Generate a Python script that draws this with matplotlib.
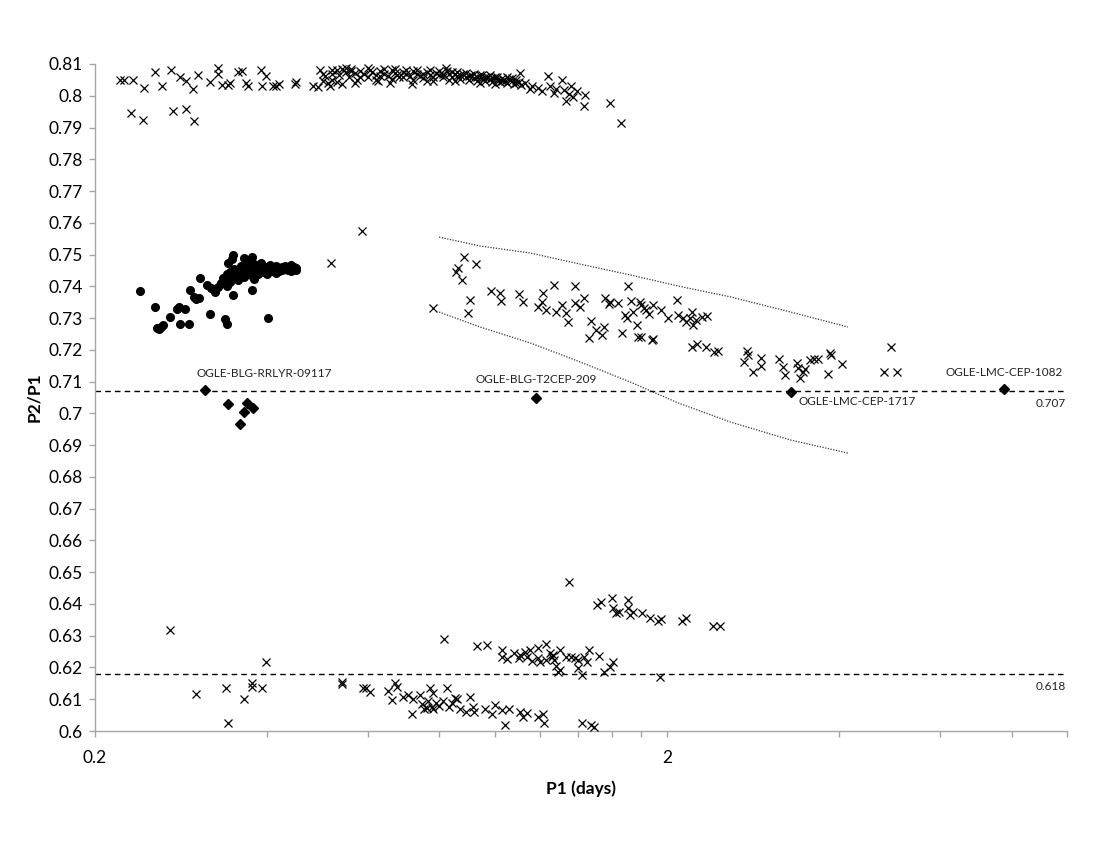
# -*- coding: utf-8 -*-
# P2/P1 period ratio vs P1 (log axis), crosses / circles / diamonds
import matplotlib
matplotlib.use('Agg')
import matplotlib.pyplot as plt
from matplotlib.ticker import FixedLocator, FuncFormatter, NullFormatter

# ---- data (P1 in days, P2/P1) ----
# upper sequence ~0.80-0.81, sparse left part
top_sparse = [(0.221, 0.8050), (0.225, 0.8050), (0.233, 0.8050), (0.231, 0.7946), (0.243, 0.7924),
              (0.244, 0.8025), (0.255, 0.8075), (0.262, 0.8031), (0.272, 0.8081), (0.282, 0.8059),
              (0.288, 0.8047), (0.274, 0.7952), (0.289, 0.7958), (0.297, 0.8021), (0.298, 0.7921),
              (0.303, 0.8066), (0.318, 0.8043), (0.328, 0.8088), (0.328, 0.8069), (0.333, 0.8034),
              (0.342, 0.8034), (0.344, 0.8040), (0.356, 0.8075), (0.361, 0.8078), (0.367, 0.8040),
              (0.370, 0.8031), (0.390, 0.8081), (0.391, 0.8031), (0.398, 0.8062), (0.409, 0.8031),
              (0.414, 0.8031), (0.419, 0.8037), (0.447, 0.8037), (0.449, 0.8043)]
# upper sequence, dense part
top_dense = [(0.48, 0.8030), (0.49, 0.8028), (0.495, 0.8081), (0.50, 0.8070), (0.505, 0.8062),
             (0.51, 0.8040), (0.515, 0.8032), (0.52, 0.8050), (0.52, 0.8082), (0.53, 0.8080),
             (0.535, 0.8065), (0.54, 0.8038), (0.54, 0.8085), (0.55, 0.8075), (0.555, 0.8060),
             (0.56, 0.8085), (0.56, 0.8078), (0.57, 0.8072), (0.575, 0.8050), (0.58, 0.8078),
             (0.59, 0.8068), (0.60, 0.8060), (0.605, 0.8082), (0.61, 0.8074), (0.62, 0.8066),
             (0.625, 0.8045), (0.63, 0.8078), (0.64, 0.8070), (0.65, 0.8062), (0.655, 0.8040),
             (0.66, 0.8080), (0.67, 0.8072), (0.675, 0.8064), (0.68, 0.8058), (0.69, 0.8076),
             (0.70, 0.8068), (0.71, 0.8062), (0.715, 0.8036), (0.72, 0.8078), (0.73, 0.8070),
             (0.74, 0.8062), (0.75, 0.8056), (0.76, 0.8074), (0.77, 0.8066), (0.78, 0.8058),
             (0.79, 0.8072), (0.80, 0.8064), (0.81, 0.8058), (0.82, 0.8088), (0.825, 0.8078),
             (0.83, 0.8068), (0.84, 0.8060), (0.85, 0.8070), (0.86, 0.8062), (0.87, 0.8054),
             (0.88, 0.8068), (0.89, 0.8058), (0.90, 0.8050), (0.91, 0.8066), (0.92, 0.8056),
             (0.93, 0.8048), (0.94, 0.8064), (0.95, 0.8055), (0.96, 0.8046), (0.97, 0.8060),
             (0.98, 0.8052), (0.99, 0.8044), (1.00, 0.8058), (1.01, 0.8050), (1.02, 0.8042),
             (1.03, 0.8056), (1.04, 0.8047), (1.05, 0.8040), (1.06, 0.8053), (1.07, 0.8045),
             (1.08, 0.8037), (1.09, 0.8050), (1.10, 0.8042), (1.11, 0.8035)]
top_dense2 = [(0.50, 0.8045), (0.52, 0.8068), (0.53, 0.8042), (0.55, 0.8088), (0.57, 0.8040),
              (0.58, 0.8060), (0.60, 0.8086), (0.62, 0.8050), (0.63, 0.8062), (0.64, 0.8085),
              (0.66, 0.8054), (0.67, 0.8084), (0.69, 0.8060), (0.70, 0.8082), (0.72, 0.8050),
              (0.73, 0.8082), (0.75, 0.8070), (0.77, 0.8080), (0.78, 0.8048), (0.80, 0.8078),
              (0.81, 0.8070), (0.83, 0.8050), (0.84, 0.8076), (0.86, 0.8074), (0.87, 0.8066),
              (0.89, 0.8072), (0.90, 0.8062), (0.92, 0.8070), (0.93, 0.8060), (0.95, 0.8066),
              (0.96, 0.8058), (0.98, 0.8064), (0.99, 0.8056), (1.01, 0.8060), (1.03, 0.8046),
              (1.05, 0.8058), (1.07, 0.8055), (1.09, 0.8040), (0.76, 0.8045), (0.85, 0.8045),
              (0.94, 0.8040), (1.00, 0.8036)]
# upper sequence, scattered right end
top_tail = [(1.107, 0.8072), (1.13, 0.8040), (1.15, 0.8020), (1.16, 0.8032), (1.19, 0.8025),
            (1.21, 0.8015), (1.24, 0.8062), (1.25, 0.8030), (1.27, 0.8010), (1.28, 0.8022),
            (1.31, 0.8050), (1.32, 0.8018), (1.33, 0.7982), (1.35, 0.8005), (1.36, 0.8030),
            (1.37, 0.7995), (1.39, 0.8015), (1.44, 0.8003), (1.43, 0.7968), (1.59, 0.7977),
            (1.66, 0.7914)]
lone_cross = [(0.586, 0.7574), (0.517, 0.7474)]

# cepheid-like band, 0.71-0.75
cep_band = [(0.780, 0.7332), (0.883, 0.7492), (0.862, 0.7458), (0.856, 0.7445), (0.875, 0.7420),
            (0.927, 0.7470), (0.905, 0.7357), (0.899, 0.7316), (0.985, 0.7385), (1.021, 0.7379),
            (1.025, 0.7354), (1.103, 0.7376), (1.12, 0.7351), (1.19, 0.7335), (1.215, 0.7379),
            (1.21, 0.7351), (1.23, 0.7326), (1.27, 0.7404), (1.28, 0.7319), (1.33, 0.7316),
            (1.31, 0.7341), (1.34, 0.7288), (1.38, 0.7401), (1.38, 0.7348), (1.41, 0.7335),
            (1.43, 0.7363), (1.47, 0.7291), (1.46, 0.7237), (1.50, 0.7263), (1.54, 0.7247),
            (1.55, 0.7272), (1.56, 0.7363), (1.59, 0.7351), (1.58, 0.7344), (1.64, 0.7348),
            (1.67, 0.7253), (1.71, 0.7401), (1.70, 0.7300), (1.73, 0.7354), (1.69, 0.7310),
            (1.74, 0.7319), (1.77, 0.7278), (1.78, 0.7241), (1.80, 0.7241), (1.79, 0.7351),
            (1.80, 0.7341), (1.82, 0.7332), (1.84, 0.7326), (1.88, 0.7231), (1.89, 0.7235),
            (1.86, 0.7313), (1.89, 0.7341), (1.95, 0.7326), (2.01, 0.7300), (2.08, 0.7357),
            (2.09, 0.7310), (2.13, 0.7300), (2.16, 0.7288), (2.19, 0.7300), (2.21, 0.7319),
            (2.22, 0.7278), (2.25, 0.7294), (2.30, 0.7304), (2.35, 0.7307), (2.21, 0.7209),
            (2.26, 0.7219), (2.34, 0.7209), (2.42, 0.7193), (2.45, 0.7196), (2.76, 0.7196),
            (2.77, 0.7184), (2.72, 0.7162), (2.83, 0.7130), (2.92, 0.7175), (2.92, 0.7150),
            (3.14, 0.7171), (3.19, 0.7146), (3.22, 0.7121), (3.37, 0.7159), (3.39, 0.7143),
            (3.41, 0.7111), (3.45, 0.7130), (3.49, 0.7140), (3.56, 0.7168), (3.61, 0.7171),
            (3.67, 0.7171), (3.86, 0.7190), (3.87, 0.7184), (3.82, 0.7124), (4.05, 0.7156),
            (4.93, 0.7209), (4.79, 0.7130), (5.04, 0.7130)]

# lower sequence 0.60-0.65
low_band = [(0.271, 0.6318), (0.300, 0.6117), (0.339, 0.6135), (0.341, 0.6025), (0.364, 0.6100),
            (0.376, 0.6151), (0.376, 0.6138), (0.391, 0.6135), (0.398, 0.6217), (0.541, 0.6154),
            (0.541, 0.6148), (0.588, 0.6135), (0.596, 0.6135), (0.605, 0.6123), (0.650, 0.6126),
            (0.660, 0.6098), (0.670, 0.6151), (0.675, 0.6140), (0.690, 0.6107), (0.705, 0.6113),
            (0.715, 0.6054), (0.720, 0.6100), (0.740, 0.6113), (0.745, 0.6085), (0.752, 0.6070),
            (0.760, 0.6072), (0.765, 0.6095), (0.770, 0.6135), (0.775, 0.6076), (0.780, 0.6120),
            (0.780, 0.6068), (0.790, 0.6088), (0.800, 0.6080), (0.810, 0.6095), (0.815, 0.6290),
            (0.825, 0.6135), (0.830, 0.6076), (0.840, 0.6088), (0.850, 0.6104), (0.860, 0.6100),
            (0.870, 0.6070), (0.890, 0.6060), (0.905, 0.6107), (0.915, 0.6076), (0.920, 0.6060),
            (0.960, 0.6069), (0.990, 0.6054), (1.00, 0.6082), (1.03, 0.6066), (1.04, 0.6019),
            (1.06, 0.6069), (1.107, 0.6060), (1.12, 0.6044), (1.14, 0.6057), (1.19, 0.6044),
            (1.22, 0.6025), (1.215, 0.6054), (1.42, 0.6025), (1.47, 0.6019), (1.49, 0.6013)]
low_mid = [(0.93, 0.6268), (0.97, 0.6271), (1.03, 0.6255), (1.03, 0.6233), (1.05, 0.6226),
           (1.08, 0.6246), (1.10, 0.6230), (1.107, 0.6240), (1.13, 0.6249), (1.14, 0.6233),
           (1.15, 0.6255), (1.16, 0.6220), (1.19, 0.6230), (1.19, 0.6261), (1.20, 0.6217),
           (1.23, 0.6274), (1.23, 0.6224), (1.25, 0.6246), (1.26, 0.6233), (1.265, 0.6240),
           (1.27, 0.6224), (1.28, 0.6205), (1.29, 0.6186), (1.30, 0.6192), (1.30, 0.6255),
           (1.33, 0.6233), (1.36, 0.6233), (1.38, 0.6230), (1.40, 0.6224), (1.40, 0.6198),
           (1.42, 0.6176), (1.43, 0.6233), (1.45, 0.6217), (1.46, 0.6255), (1.52, 0.6236),
           (1.55, 0.6186), (1.59, 0.6202), (1.61, 0.6217), (1.35, 0.6469)]
low_top = [(1.51, 0.6397), (1.53, 0.6406), (1.60, 0.6419), (1.61, 0.6387), (1.63, 0.6372),
           (1.65, 0.6375), (1.71, 0.6412), (1.71, 0.6387), (1.72, 0.6365), (1.74, 0.6375),
           (1.81, 0.6372), (1.87, 0.6356), (1.93, 0.6346), (1.95, 0.6353), (1.94, 0.6170),
           (2.12, 0.6346), (2.16, 0.6356), (2.41, 0.6330), (2.47, 0.6330)]

# RR Lyrae (filled circles)
rrl = [(0.240, 0.7385), (0.255, 0.7335), (0.257, 0.7269), (0.259, 0.7265), (0.261, 0.7272),
       (0.263, 0.7278), (0.270, 0.7304), (0.278, 0.7329), (0.280, 0.7335), (0.287, 0.7329),
       (0.282, 0.7281), (0.292, 0.7281), (0.293, 0.7389), (0.298, 0.7367), (0.304, 0.7363),
       (0.300, 0.7360), (0.305, 0.7426), (0.314, 0.7405), (0.318, 0.7313), (0.319, 0.7395),
       (0.324, 0.7382), (0.328, 0.7398), (0.332, 0.7410), (0.340, 0.7281), (0.338, 0.7297),
       (0.341, 0.7474), (0.349, 0.7373), (0.349, 0.7500), (0.347, 0.7485), (0.364, 0.7490),
       (0.376, 0.7492), (0.376, 0.7390), (0.380, 0.7422), (0.402, 0.7300),
       (0.335, 0.7410), (0.335, 0.7425), (0.340, 0.7420), (0.340, 0.7440), (0.340, 0.7400),
       (0.345, 0.7430), (0.345, 0.7445), (0.345, 0.7415), (0.350, 0.7425), (0.350, 0.7440),
       (0.350, 0.7455), (0.355, 0.7435), (0.355, 0.7450), (0.355, 0.7420), (0.360, 0.7440),
       (0.360, 0.7455), (0.360, 0.7430), (0.360, 0.7465), (0.365, 0.7445), (0.365, 0.7430),
       (0.365, 0.7460), (0.370, 0.7440), (0.370, 0.7455), (0.370, 0.7470), (0.375, 0.7450),
       (0.375, 0.7435), (0.375, 0.7462), (0.380, 0.7445), (0.380, 0.7458), (0.380, 0.7470),
       (0.385, 0.7440), (0.385, 0.7452), (0.385, 0.7465), (0.390, 0.7448), (0.390, 0.7460),
       (0.390, 0.7472), (0.395, 0.7445), (0.395, 0.7458), (0.400, 0.7450), (0.400, 0.7462),
       (0.400, 0.7440), (0.405, 0.7455), (0.405, 0.7468), (0.410, 0.7448), (0.410, 0.7460),
       (0.415, 0.7452), (0.415, 0.7465), (0.415, 0.7442), (0.420, 0.7458), (0.420, 0.7448),
       (0.425, 0.7462), (0.425, 0.7450), (0.430, 0.7455), (0.430, 0.7465), (0.435, 0.7450),
       (0.435, 0.7462), (0.440, 0.7458), (0.440, 0.7468), (0.440, 0.7448), (0.445, 0.7455),
       (0.445, 0.7462), (0.450, 0.7458), (0.450, 0.7450)]

# diamonds
diamonds = [(0.311, 0.7074), (0.342, 0.7030), (0.369, 0.7033), (0.364, 0.7004), (0.378, 0.7017),
            (0.359, 0.6967), (1.18, 0.7049), (3.29, 0.7067), (7.77, 0.7077)]
star_names = ['OGLE-BLG-RRLYR-09117', 'OGLE-BLG-T2CEP-209', 'OGLE-LMC-CEP-1717', 'OGLE-LMC-CEP-1082']
star_p1 = [0.311, 1.18, 3.29, 7.77]
star_ratio = [0.7074, 0.7049, 0.7067, 0.7077]

# dotted envelope curves
env_p1 = [0.799, 0.942, 1.152, 1.409, 1.723, 2.09, 2.578, 3.29, 4.14]
env_upper = [0.7555, 0.7527, 0.7505, 0.7470, 0.7436, 0.7401, 0.7367, 0.7319, 0.7272]
env_lower = [0.7319, 0.7272, 0.7222, 0.7162, 0.7099, 0.7033, 0.6973, 0.6916, 0.6875]

ref_lines = [0.707, 0.618]


def xy(pts):
    return [p[0] for p in pts], [p[1] for p in pts]


def main():
    plt.rcParams['font.family'] = ['Lato', 'DejaVu Sans']
    fig = plt.figure(figsize=(11, 8.5), dpi=100)
    ax = fig.add_axes([95 / 1100., 1 - 731 / 850., 972 / 1100., 667 / 850.])

    # reference lines
    for r in ref_lines:
        ax.axhline(r, color='black', lw=1.0, ls=(0, (4, 3)), zorder=1)

    # envelope
    ax.plot(env_p1, env_upper, color='#333333', lw=0.9, ls=(0, (1, 1.2)), zorder=1)
    ax.plot(env_p1, env_lower, color='#333333', lw=0.9, ls=(0, (1, 1.2)), zorder=1)

    # crosses
    cross_kw = dict(ls='none', marker='x', ms=5.5, mew=0.9, color='black', zorder=3)
    for grp in [top_sparse, top_dense, top_dense2, top_tail, lone_cross,
                cep_band, low_band, low_mid, low_top]:
        x, y = xy(grp)
        ax.plot(x, y, **cross_kw)

    # RR Lyrae
    x, y = xy(rrl)
    ax.plot(x, y, ls='none', marker='o', ms=5.5, color='black', mec='black', zorder=3)

    # diamonds
    x, y = xy(diamonds)
    ax.plot(x, y, ls='none', marker='D', ms=5, color='black', zorder=4)

    # star labels
    offsets = [(43, 12), (0, 13), (48, -7), (0, 12)]
    for name, px, py, off in zip(star_names, star_p1, star_ratio, offsets):
        ax.annotate(name, xy=(px, py), xytext=off, textcoords='offset points',
                    ha='center', va='center', fontsize=8.5, color='#222222')
    for r in ref_lines:
        ax.annotate('%g' % r, xy=(1.0, r), xycoords=('axes fraction', 'data'),
                    xytext=(-1, -9), textcoords='offset points',
                    ha='right', va='center', fontsize=8.5, color='#222222')

    # axes
    ax.set_xscale('log')
    ax.set_xlim(0.2, 10)
    ax.set_ylim(0.6, 0.81)
    ax.xaxis.set_major_locator(FixedLocator([0.2, 2]))
    ax.xaxis.set_major_formatter(FuncFormatter(lambda v, p: '%g' % v))
    ax.xaxis.set_minor_locator(FixedLocator([0.4, 0.6, 0.8, 1.0, 1.2, 1.4, 1.6, 1.8, 4, 6, 8, 10]))
    ax.xaxis.set_minor_formatter(NullFormatter())
    yt = [round(0.6 + 0.01 * i, 2) for i in range(22)]
    ax.set_yticks(yt)
    ax.yaxis.set_major_formatter(FuncFormatter(lambda v, p: '%g' % round(v, 2)))

    for s in ['top', 'right']:
        ax.spines[s].set_visible(False)
    for s in ['left', 'bottom']:
        ax.spines[s].set_color('#a6a6a6')
        ax.spines[s].set_linewidth(1.0)
    ax.tick_params(axis='both', which='both', color='#a6a6a6', direction='out', length=4,
                   width=1, labelsize=12.5, labelcolor='black')
    ax.tick_params(axis='x', which='both', pad=10)
    ax.tick_params(axis='y', pad=5)

    ax.set_xlabel('P1 (days)', fontsize=12.5, fontweight='bold', labelpad=10)
    ax.set_ylabel('P2/P1', fontsize=12.5, fontweight='bold', labelpad=4)

    fig.savefig('out.png', dpi=100)


if __name__ == "__main__":
    main()
